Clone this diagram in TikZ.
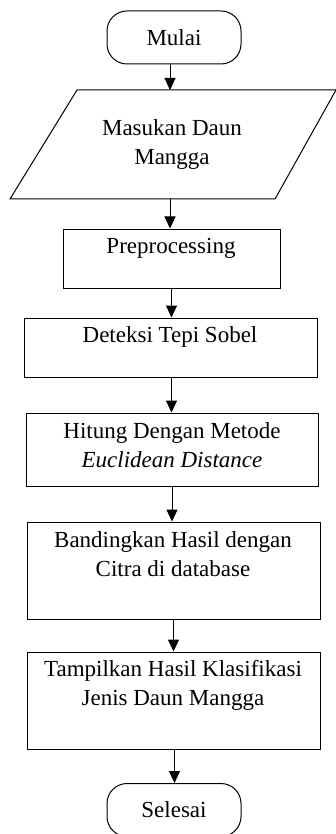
\documentclass[tikz,border=0pt]{standalone}
\usepackage{fontspec}
\setmainfont{Liberation Serif}
\usetikzlibrary{arrows.meta}
\begin{document}
\begin{tikzpicture}[x=1pt,y=-1pt,
  lbl/.style={font=\fontsize{23}{29}\selectfont, align=center, inner sep=0pt},
  term/.style={draw, line width=1pt, rounded corners=20pt, minimum width=134pt, minimum height=53pt, inner sep=0pt, lbl},
  procbox/.style={draw, line width=1pt, rectangle, inner sep=0pt},
  shapeline/.style={draw, line width=1pt},
  arr/.style={-{Triangle[length=12pt,width=11pt]}, line width=1pt}]
\useasboundingbox (0,0) rectangle (336,834);
\node[term] (start) at (174,37.5) {Mulai};
\coordinate (inTL) at (77,90);
\coordinate (inTR) at (336,90);
\coordinate (inBR) at (275,199);
\coordinate (inBL) at (10,199);
\path[shapeline] (inTL) -- (inTR) -- (inBR) -- (inBL) -- cycle;
\coordinate (intop) at (170,90);
\coordinate (inbot) at (170,199);
\node[lbl] (tin) at (172,145) {Masukan Daun\\Mangga};
\node[procbox, minimum width=217pt, minimum height=59pt] (pre) at (171.5,258.5) {};
\node[lbl] (tpre) at (171,248) {Preprocessing};
\node[procbox, minimum width=293pt, minimum height=59pt] (sob) at (170.5,347.5) {};
\node[lbl] (tsob) at (170,337) {Deteksi Tepi Sobel};
\node[procbox, minimum width=292pt, minimum height=73pt] (hit) at (172,449.5) {};
\node[lbl] (thit) at (172,445) {Hitung Dengan Metode\\\textit{Euclidean Distance}};
\node[procbox, minimum width=293pt, minimum height=97pt] (ban) at (173.5,570.5) {};
\node[lbl] (tban) at (173,554) {Bandingkan Hasil dengan\\Citra di database};
\node[procbox, minimum width=293pt, minimum height=97pt] (tam) at (173.5,700.5) {};
\node[lbl] (ttam) at (173,685) {Tampilkan Hasil Klasifikasi\\Jenis Daun Mangga};
\node[term] (end) at (174,810) {Selesai};
\draw[arr] (start.south -| intop) -- (intop);
\draw[arr] (inbot) -- (inbot |- pre.north);
\draw[arr] (pre.south) -- (pre.south |- sob.north);
\draw[arr] ([xshift=1pt]sob.south) -- ([xshift=1pt]sob.south |- hit.north);
\draw[arr] (hit.south) -- (hit.south |- ban.north);
\draw[arr] (ban.south) -- (ban.south |- tam.north);
\draw[arr] ([xshift=1pt]tam.south) -- ([xshift=1pt]tam.south |- end.north);
\end{tikzpicture}
\end{document}
